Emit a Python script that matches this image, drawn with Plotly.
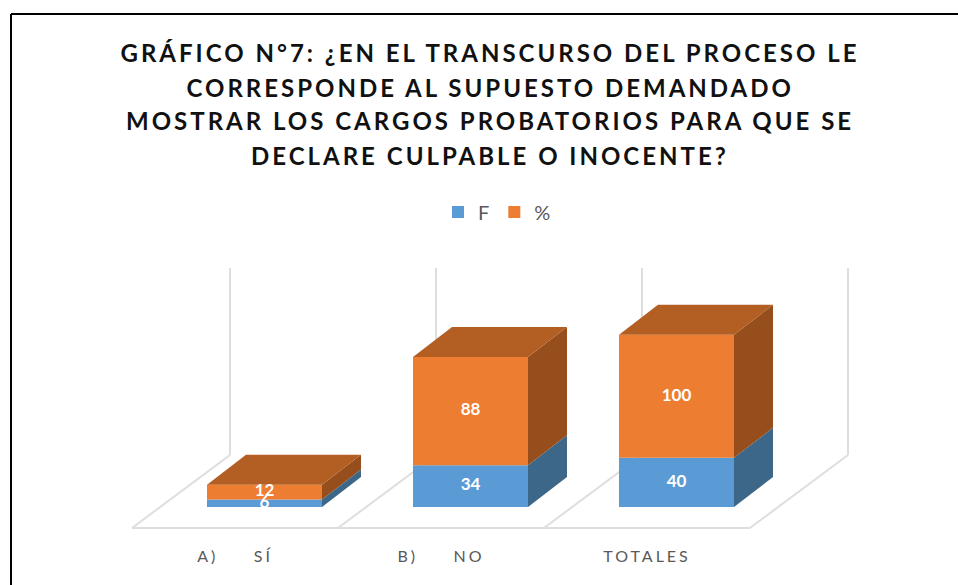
import plotly.graph_objects as go

# ---- data ----
categories = ["A)\u00a0\u00a0\u00a0\u00a0\u00a0SÍ", "B)\u00a0\u00a0\u00a0\u00a0\u00a0NO", "TOTALES"]
f_values = [6, 34, 40]
pct_values = [12, 88, 100]
series_names = ["F", "%"]
title_lines = [
    "GRÁFICO N°7: ¿EN EL TRANSCURSO DEL PROCESO LE",
    "CORRESPONDE AL SUPUESTO DEMANDADO",
    "MOSTRAR LOS CARGOS PROBATORIOS PARA QUE SE",
    "DECLARE CULPABLE O INOCENTE?",
]

# ---- style / geometry ----
W, H = 958, 585
MB = 40
PX_X, PX_Y = 206.0, 1.23          # pixels per x-unit and per value-unit
FLOOR_PX = 528
C_F, C_P = "#5B9BD5", "#ED7D31"
C_F_SIDE, C_P_SIDE, C_P_TOP = "#3C6788", "#964F1C", "#B35E23"
C_GRID = "#DEDEDE"
C_TEXT = "#595959"

x_range = [-132 / PX_X, (W - 132) / PX_X]
y_range = [-(H - MB - FLOOR_PX) / PX_Y, FLOOR_PX / PX_Y]

FLOOR_DX, FLOOR_DY = 98 / PX_X, 73 / PX_Y
WALL_TOP = 260 / PX_Y
BAR_W = 115 / PX_X
BAR_SHIFT = 29.5 / PX_X
BASE = 21 / PX_Y
DX, DY = 39 / PX_X, 30 / PX_Y

centers = [i + 0.5 + BAR_SHIFT for i in range(len(categories))]
f_base = [BASE] * len(categories)
p_base = [BASE + v for v in f_values]

fig = go.Figure()

for name, vals, base, col in [
    (series_names[0], f_values, f_base, C_F),
    (series_names[1], pct_values, p_base, C_P),
]:
    fig.add_trace(go.Bar(x=centers, y=vals, base=base, width=BAR_W, name=name,
                         marker=dict(color=col, line=dict(width=0)), hoverinfo="skip"))


def poly(xs, ys, col):
    fig.add_trace(go.Scatter(x=xs, y=ys, mode="lines", fill="toself", fillcolor=col,
                             line=dict(width=0, color=col), showlegend=False, hoverinfo="skip"))


for c, fv, pv, b0, b1 in zip(centers, f_values, pct_values, f_base, p_base):
    r = c + BAR_W / 2
    l = c - BAR_W / 2
    poly([r, r + DX, r + DX, r, r], [b0, b0 + DY, b0 + fv + DY, b0 + fv, b0], C_F_SIDE)
    poly([r, r + DX, r + DX, r, r], [b1, b1 + DY, b1 + pv + DY, b1 + pv, b1], C_P_SIDE)
    top = b1 + pv
    poly([l, r, r + DX, l + DX, l], [top, top, top + DY, top + DY, top], C_P_TOP)

# data labels (white; the "6" runs off its thin bar exactly as in the source)
label_font = dict(family="Lato, Open Sans, sans-serif", size=17, color="white", weight="bold")
fig.add_trace(go.Scatter(x=centers, y=[b + v / 2 for b, v in zip(f_base, f_values)], mode="text",
                         text=[str(v) for v in f_values], textfont=label_font,
                         showlegend=False, hoverinfo="skip"))
fig.add_trace(go.Scatter(x=centers, y=[b + v / 2 for b, v in zip(p_base, pct_values)], mode="text",
                         text=[str(v) for v in pct_values], textfont=label_font,
                         showlegend=False, hoverinfo="skip"))

# floor and walls, behind the bars
shapes = []
n = len(categories)


def seg(x0, y0, x1, y1, **kw):
    shapes.append(dict(type="line", xref="x", yref="y", x0=x0, y0=y0, x1=x1, y1=y1,
                       layer="below", line=dict(color=C_GRID, width=2), **kw))


seg(0, 0, n, 0)
seg(n + FLOOR_DX, FLOOR_DY, n + FLOOR_DX, WALL_TOP)
seg(n, 0, n + FLOOR_DX, FLOOR_DY)
for i in range(n):
    seg(i, 0, i + FLOOR_DX, FLOOR_DY)
    seg(i + FLOOR_DX, FLOOR_DY, i + FLOOR_DX, WALL_TOP)

# page frame: top and left rules only
plot_h = H - MB
shapes.append(dict(type="line", xref="paper", yref="paper", x0=11 / W, x1=1,
                   y0=1 - 14 / plot_h, y1=1 - 14 / plot_h, line=dict(color="black", width=2)))
shapes.append(dict(type="line", xref="paper", yref="paper", x0=11 / W, x1=11 / W,
                   y0=-MB / plot_h, y1=1 - 14 / plot_h, line=dict(color="black", width=2)))

annotations = []
for line, py in zip(title_lines, [52, 87, 120, 155]):
    annotations.append(dict(text=line, xref="paper", yref="paper", x=490 / W, y=1 - py / plot_h,
                            xanchor="center", yanchor="middle", showarrow=False,
                            font=dict(family="Lato, Open Sans, sans-serif", size=24, color="#111111",
                                      weight="bold")))

fig.update_layout(
    width=W, height=H,
    margin=dict(l=0, r=0, t=0, b=MB, autoexpand=False),
    paper_bgcolor="white", plot_bgcolor="white",
    barmode="overlay",
    showlegend=True,
    legend=dict(orientation="h", x=497 / W, xanchor="center", y=1 - 212 / plot_h, yanchor="middle",
                font=dict(family="Lato, Open Sans, sans-serif", size=20, color=C_TEXT),
                bgcolor="rgba(0,0,0,0)"),
    xaxis=dict(range=x_range, tickmode="array", tickvals=[i + 0.5 for i in range(n)], ticktext=categories,
               showgrid=False, zeroline=False, showline=False, ticks="", fixedrange=True,
               tickfont=dict(family="Lato, Open Sans, sans-serif", size=16, color=C_TEXT)),
    yaxis=dict(range=y_range, visible=False, showgrid=False, zeroline=False, fixedrange=True),
    shapes=shapes,
    annotations=annotations,
)

post = """
document.body.style.margin = '0';
document.querySelectorAll('.annotation-text').forEach(function (e) { e.style.letterSpacing = '3px'; });
document.querySelectorAll('.xtick text').forEach(function (e) { e.style.letterSpacing = '3px'; });
"""
fig.write_html("out.html", post_script=post, config={"displayModeBar": False})
